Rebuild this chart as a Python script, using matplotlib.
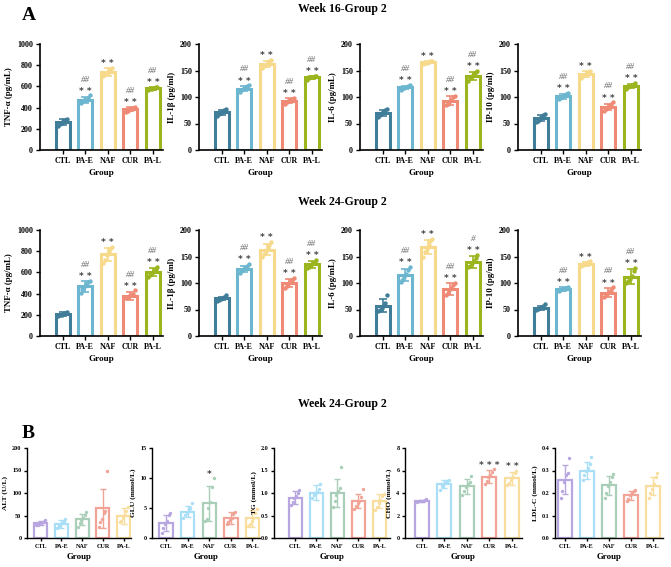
import matplotlib
matplotlib.use("Agg")
import matplotlib.pyplot as plt
import numpy as np

plt.rcParams['font.family'] = ['Liberation Serif', 'DejaVu Serif']
plt.rcParams['font.weight'] = 'bold'

groups = ['CTL', 'PA-E', 'NAF', 'CUR', 'PA-L']

# ---- A, week 16 ----
tnf16_mean = [262, 472, 735, 387, 582]
tnf16_sd = [28, 30, 38, 22, 12]
tnf16_pts = [[225, 245, 255, 270, 285, 290], [445, 460, 470, 475, 490, 515],
             [700, 715, 730, 740, 765, 770], [360, 370, 385, 390, 400, 410],
             [570, 575, 580, 585, 590, 595]]
il1b16_mean = [71, 116, 162, 93, 137]
il1b16_sd = [5, 5, 6, 5, 3]
il1b16_pts = [[64, 67, 70, 73, 76, 77], [110, 113, 115, 117, 120, 122],
              [155, 158, 160, 163, 167, 170], [86, 90, 92, 95, 97, 99],
              [133, 135, 137, 138, 140, 140]]
il6_16_mean = [70, 118, 166, 93, 140]
il6_16_sd = [5, 3, 2, 8, 7]
il6_16_pts = [[63, 66, 69, 72, 75, 77], [113, 115, 117, 119, 121, 123],
              [163, 164, 165, 166, 167, 168], [84, 86, 90, 95, 100, 102],
              [130, 135, 140, 143, 147, 149]]
ip10_16_mean = [60, 101, 143, 81, 121]
ip10_16_sd = [6, 5, 6, 6, 4]
ip10_16_pts = [[52, 55, 58, 62, 66, 68], [96, 98, 100, 103, 105, 108],
               [136, 139, 142, 145, 148, 150], [74, 77, 80, 83, 86, 90],
               [116, 118, 120, 122, 125, 127]]

# ---- A, week 24 ----
tnf24_mean = [205, 468, 772, 378, 604]
tnf24_sd = [18, 50, 60, 35, 38]
tnf24_pts = [[185, 195, 200, 210, 215, 225], [410, 440, 465, 490, 510, 520],
             [690, 720, 760, 790, 820, 840], [355, 365, 375, 385, 395, 430],
             [560, 580, 595, 610, 630, 650]]
il1b24_mean = [71, 127, 163, 100, 135]
il1b24_sd = [3, 6, 10, 7, 6]
il1b24_pts = [[66, 68, 70, 71, 73, 78], [118, 122, 125, 128, 132, 136],
              [150, 155, 160, 166, 172, 177], [90, 95, 98, 102, 106, 109],
              [128, 131, 134, 137, 140, 143]]
il6_24_mean = [57, 115, 168, 89, 140]
il6_24_sd = [12, 11, 14, 11, 11]
il6_24_pts = [[47, 50, 53, 57, 62, 78], [102, 106, 112, 117, 124, 130],
              [150, 158, 165, 172, 180, 183], [78, 82, 87, 91, 96, 100],
              [130, 133, 137, 142, 148, 153]]
ip10_24_mean = [53, 88, 136, 82, 112]
ip10_24_sd = [4, 4, 4, 8, 14]
ip10_24_pts = [[49, 51, 53, 54, 56, 60], [84, 86, 88, 89, 91, 93],
               [132, 134, 136, 137, 139, 141], [74, 77, 80, 83, 87, 92],
               [100, 103, 107, 113, 122, 128]]

# ---- B, week 24 ----
alt_mean = [33, 31, 42, 66, 49]
alt_sd = [5, 8, 12, 44, 18]
alt_pts = [[28, 30, 32, 34, 36, 40], [22, 26, 30, 33, 38, 42], [25, 33, 40, 45, 52, 58],
           [25, 35, 42, 55, 60, 150], [35, 38, 45, 52, 60, 70]]
glu_mean = [2.5, 4.4, 5.8, 3.3, 3.3]
glu_sd = [1.3, 0.9, 2.9, 1.0, 1.4]
glu_pts = [[0.8, 1.6, 2.4, 2.8, 3.8, 4.2], [3.4, 3.8, 4.2, 4.6, 5.0, 5.8],
           [2.8, 3.2, 5.0, 6.0, 8.5, 10.0], [2.4, 2.6, 3.0, 3.4, 4.0, 4.4],
           [2.0, 2.4, 2.8, 3.4, 4.2, 4.8]]
tg_mean = [0.90, 1.01, 1.01, 0.82, 0.82]
tg_sd = [0.15, 0.16, 0.31, 0.15, 0.15]
tg_pts = [[0.74, 0.80, 0.88, 0.94, 1.00, 1.06], [0.90, 0.95, 0.98, 1.02, 1.10, 1.21],
          [0.70, 0.82, 0.95, 1.05, 1.12, 1.58], [0.65, 0.72, 0.78, 0.82, 0.92, 1.10],
          [0.62, 0.70, 0.78, 0.85, 0.93, 0.98]]
cho_mean = [3.3, 4.8, 4.6, 5.45, 5.3]
cho_sd = [0.1, 0.35, 0.65, 0.6, 0.6]
cho_pts = [[3.2, 3.25, 3.3, 3.3, 3.35, 3.5], [4.3, 4.6, 4.8, 4.9, 5.1, 5.2],
           [3.8, 4.2, 4.5, 4.8, 5.0, 5.5], [4.8, 5.1, 5.4, 5.6, 5.9, 6.1],
           [4.7, 4.9, 5.2, 5.4, 5.8, 6.0]]
ldl_mean = [0.26, 0.30, 0.235, 0.19, 0.23]
ldl_sd = [0.065, 0.038, 0.042, 0.02, 0.04]
ldl_pts = [[0.18, 0.21, 0.25, 0.28, 0.29, 0.355], [0.26, 0.28, 0.30, 0.31, 0.33, 0.36],
           [0.18, 0.20, 0.23, 0.25, 0.27, 0.285], [0.165, 0.175, 0.19, 0.20, 0.21, 0.215],
           [0.18, 0.20, 0.22, 0.24, 0.27, 0.29]]

star_a = ['', '**', '**', '**', '**']
hash_a = ['', '##', '', '##', '##']
hash_il6_24 = ['', '##', '', '##', '#']

colors_a = ['#3f7d99', '#6db6cf', '#f6d98a', '#ee8a76', '#9ab51e']
colors_b = ['#b7a6e0', '#a9def7', '#a9cfb8', '#f1a395', '#f9dd9d']

offs = [-0.2, -0.12, -0.04, 0.04, 0.12, 0.2]

W, H = 671, 567
fig = plt.figure(figsize=(W / 100, H / 100), dpi=100)


def px_axes(left, right, top, bottom):
    return fig.add_axes([left / W, 1 - bottom / H, (right - left) / W, (bottom - top) / H])


def panel(ax, mean, sd, pts, colors, ymax, yticks, ylabel, xlim, stars=None, hashes=None,
          big=True):
    lw = 2.2 if big else 1.6
    x = np.arange(len(groups))
    for i in range(len(groups)):
        ax.bar(x[i], mean[i], width=0.62, facecolor='white', edgecolor=colors[i],
               linewidth=lw, zorder=2)
        ax.errorbar(x[i], mean[i], yerr=sd[i], color=colors[i], capsize=3 if big else 2.5,
                    elinewidth=1.2 if big else 1.0, capthick=1.2 if big else 1.0, zorder=3)
        ax.scatter(x[i] + np.array(offs), pts[i], s=10 if big else 6, color=colors[i],
                   zorder=4, linewidths=0)
        top = max(mean[i] + sd[i], max(pts[i]))
        if stars and stars[i]:
            ax.text(x[i], top + 0.04 * ymax, ' '.join(stars[i]), ha='center', va='center',
                    fontsize=6.5, color='#444444', fontweight='bold',
                    family='DejaVu Sans')
        if hashes and hashes[i]:
            ax.text(x[i], top + 0.15 * ymax, hashes[i], ha='center', va='center',
                    fontsize=6.5, color='#666666', fontweight='normal', style='italic')
    ax.set_ylim(0, ymax)
    ax.set_xlim(*xlim)
    ax.set_yticks(yticks)
    ax.set_xticks(x)
    ax.set_xticklabels(groups)
    for s in ['top', 'right']:
        ax.spines[s].set_visible(False)
    for s in ['left', 'bottom']:
        ax.spines[s].set_linewidth(1.2 if big else 1.0)
    fs = 5.8 if big else 4.4
    ax.tick_params(axis='both', labelsize=fs, width=1.0, length=3 if big else 2, pad=2)
    for lab in ax.get_xticklabels() + ax.get_yticklabels():
        lab.set_fontweight('bold')
    ax.set_ylabel(ylabel, fontsize=6.4 if big else 5.4, fontweight='bold', labelpad=3)
    ax.set_xlabel('Group', fontsize=6.6 if big else 6.4, fontweight='bold', labelpad=3)


lefts_a = [40, 199, 360, 518]
xlim_a = (-1.0, 4.45)

row1 = [(tnf16_mean, tnf16_sd, tnf16_pts, 1000, [0, 200, 400, 600, 800, 1000], 'TNF-α (pg/mL)', hash_a),
        (il1b16_mean, il1b16_sd, il1b16_pts, 200, [0, 50, 100, 150, 200], 'IL-1β (pg/ml)', hash_a),
        (il6_16_mean, il6_16_sd, il6_16_pts, 200, [0, 50, 100, 150, 200], 'IL-6 (pg/mL)', hash_a),
        (ip10_16_mean, ip10_16_sd, ip10_16_pts, 200, [0, 50, 100, 150, 200], 'IP-10 (pg/ml)', hash_a)]
row2 = [(tnf24_mean, tnf24_sd, tnf24_pts, 1000, [0, 200, 400, 600, 800, 1000], 'TNF-α (pg/mL)', hash_a),
        (il1b24_mean, il1b24_sd, il1b24_pts, 200, [0, 50, 100, 150, 200], 'IL-1β (pg/ml)', hash_a),
        (il6_24_mean, il6_24_sd, il6_24_pts, 200, [0, 50, 100, 150, 200], 'IL-6 (pg/mL)', hash_il6_24),
        (ip10_24_mean, ip10_24_sd, ip10_24_pts, 200, [0, 50, 100, 150, 200], 'IP-10 (pg/ml)', hash_a)]

for (top, bot), row in [((44, 150), row1), ((230, 336), row2)]:
    for left, (m, s, p, ymax, yt, yl, hs) in zip(lefts_a, row):
        ax = px_axes(left, left + 123, top, bot)
        panel(ax, m, s, p, colors_a, ymax, yt, yl, xlim_a, star_a, hs)

# row B
b_specs = [
    (27, 131, (-0.65, 4.35), alt_mean, alt_sd, alt_pts, 200, [0, 50, 100, 150, 200], 'ALT (U/L)', None),
    (152, 260, (-0.65, 4.35), glu_mean, glu_sd, glu_pts, 15, [0, 5, 10, 15], 'GLU (mmol/L)', ['', '', '*', '', '']),
    (274, 390, (-1.0, 4.5), tg_mean, tg_sd, tg_pts, 2.0, [0.0, 0.5, 1.0, 1.5, 2.0], 'TG (mmol/L)', None),
    (405, 522, (-0.75, 4.45), cho_mean, cho_sd, cho_pts, 8, [0, 2, 4, 6, 8], 'CHO (mmol/L)', ['', '', '', '***', '**']),
    (555, 663, (-0.45, 4.45), ldl_mean, ldl_sd, ldl_pts, 0.4, [0.0, 0.1, 0.2, 0.3, 0.4], 'LDL-C (mmol/L)', None),
]
for left, right, xl, m, s, p, ymax, yt, yl, st in b_specs:
    ax = px_axes(left, right, 448, 538)
    panel(ax, m, s, p, colors_b, ymax, yt, yl, xl, st, None, big=False)
    if yt[1] < 1:
        ax.set_yticklabels(['%.1f' % v for v in yt])
        for lab in ax.get_yticklabels():
            lab.set_fontweight('bold')

fig.text(342 / W, 1 - 9 / H, 'Week 16-Group 2', ha='center', va='center', fontsize=8.5, fontweight='bold')
fig.text(342 / W, 1 - 202 / H, 'Week 24-Group 2', ha='center', va='center', fontsize=8.5, fontweight='bold')
fig.text(342 / W, 1 - 404 / H, 'Week 24-Group 2', ha='center', va='center', fontsize=8.5, fontweight='bold')
fig.text(22 / W, 1 - 15 / H, 'A', ha='left', va='center', fontsize=14, fontweight='bold')
fig.text(22 / W, 1 - 433 / H, 'B', ha='left', va='center', fontsize=14, fontweight='bold')

fig.savefig('out.png', dpi=100)
